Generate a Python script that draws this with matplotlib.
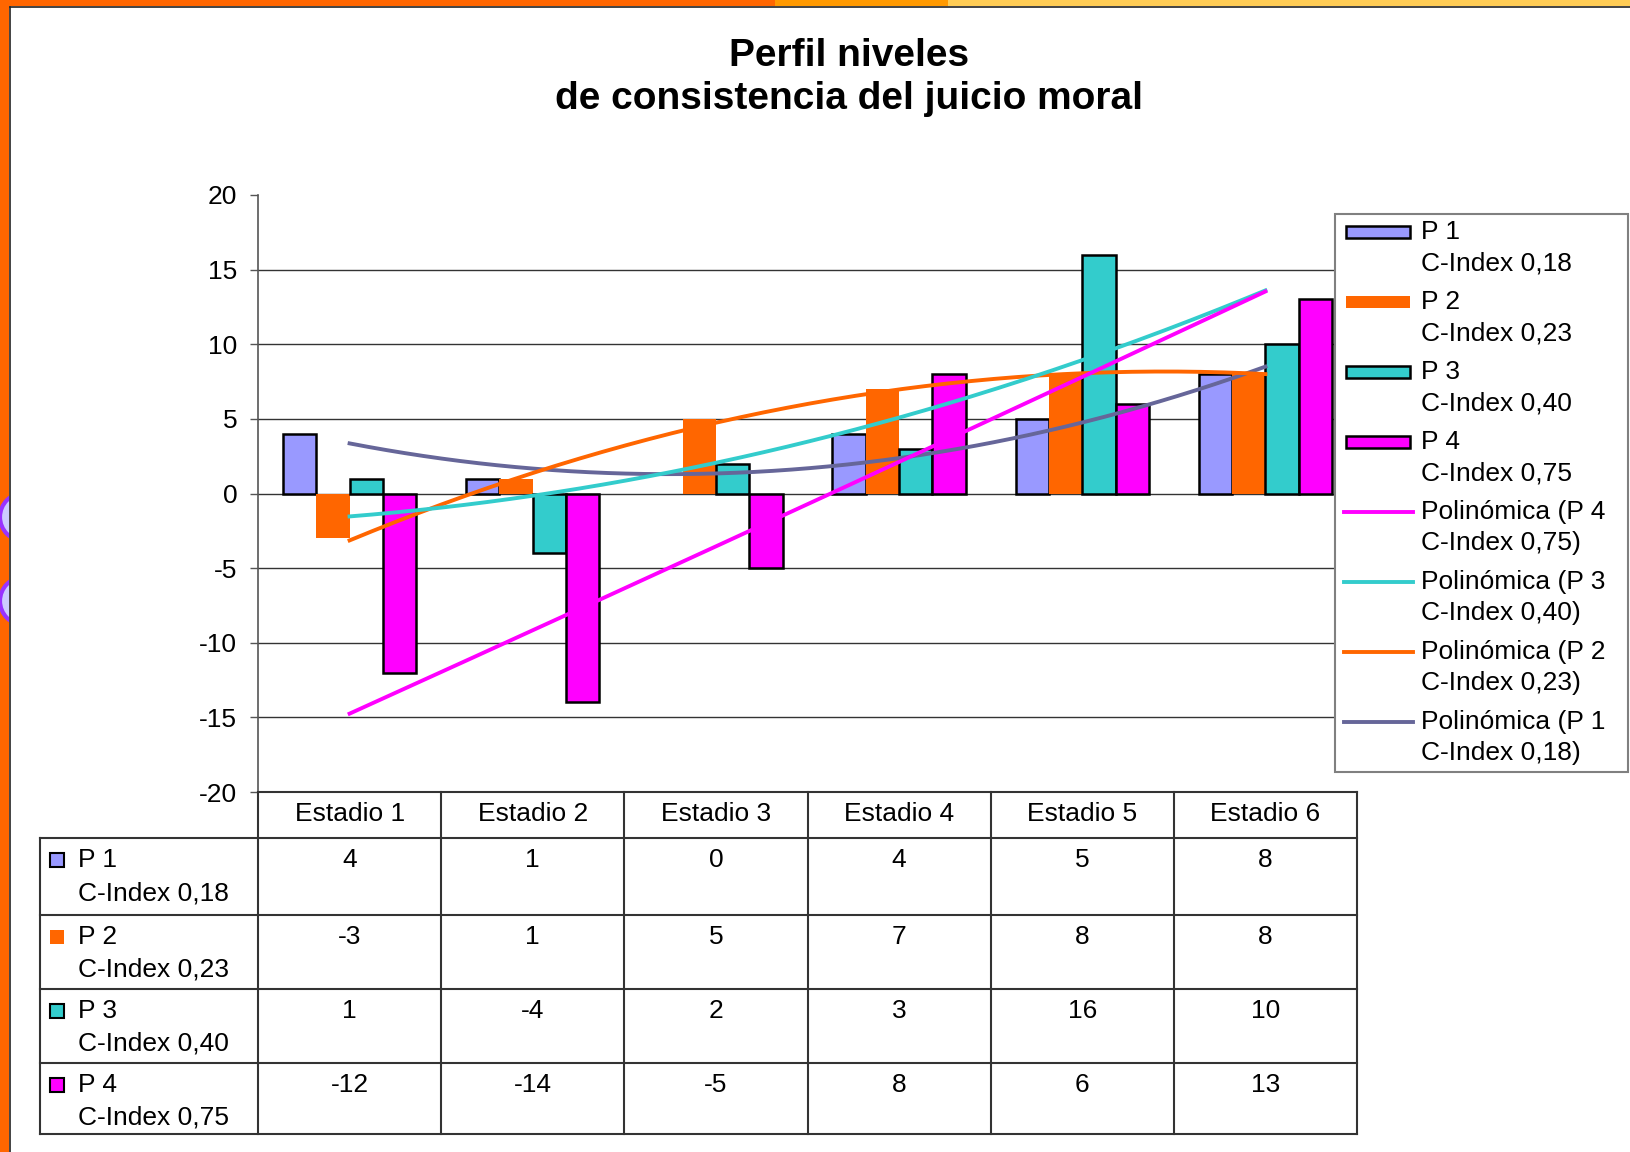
import numpy as np
import matplotlib
matplotlib.use('Agg')
import matplotlib.pyplot as plt
from matplotlib.patches import Rectangle, Circle

plt.rcParams['font.family'] = ['Liberation Sans', 'DejaVu Sans']
plt.rcParams['axes.unicode_minus'] = False

# --- Datos ---
estadios = ['Estadio 1', 'Estadio 2', 'Estadio 3', 'Estadio 4', 'Estadio 5', 'Estadio 6']
p1 = [4, 1, 0, 4, 5, 8]
p2 = [-3, 1, 5, 7, 8, 8]
p3 = [1, -4, 2, 3, 16, 10]
p4 = [-12, -14, -5, 8, 6, 13]
series = [p1, p2, p3, p4]
nombres = ['P 1', 'P 2', 'P 3', 'P 4']
cindex = ['C-Index 0,18', 'C-Index 0,23', 'C-Index 0,40', 'C-Index 0,75']
colores = ['#9999FF', '#FF6600', '#33CCCC', '#FF00FF']
colores_tend = ['#666699', '#FF6600', '#33CCCC', '#FF00FF']

W, H = 1630, 1152
fs = 19
fig = plt.figure(figsize=(W / 100, H / 100), dpi=100)
fig.patch.set_facecolor('white')

# --- Grafico principal ---
x0, x1, ytop, ybot = 258, 1357, 195, 792
ax = fig.add_axes([x0 / W, 1 - ybot / H, (x1 - x0) / W, (ybot - ytop) / H])
ax.set_xlim(0.5, 6.5)
ax.set_ylim(-20, 20)
ax.set_yticks(range(-20, 25, 5))
ax.set_xticks([])
for v in range(-15, 20, 5):
    ax.axhline(v, color='#333333', lw=1, zorder=0)
for s in ['top', 'right', 'bottom']:
    ax.spines[s].set_visible(False)
ax.spines['left'].set_color('#555555')
ax.spines['left'].set_linewidth(1.2)
ax.tick_params(axis='y', direction='out', length=6, width=1, color='#555555',
               labelsize=fs, pad=9)

x = np.arange(1, 7)
ancho = 1 / 5.5
for i, (datos, col) in enumerate(zip(series, colores)):
    borde = 'none' if i == 1 else 'black'
    grosor = [0 if v == 0 else 1.8 for v in datos]
    ax.bar(x + (i - 1.5) * ancho, datos, width=ancho, color=col,
           edgecolor=borde, linewidth=grosor, zorder=2)

# Lineas de tendencia polinomicas (orden 2)
xs = np.linspace(1, 6, 200)
for datos, col in zip(series, colores_tend):
    coef = np.polyfit(x, datos, 2)
    ax.plot(xs, np.polyval(coef, xs), color=col, lw=2.8, zorder=3)

# --- Capa superpuesta en pixeles ---
ov = fig.add_axes([0, 0, 1, 1], zorder=5)
ov.set_xlim(0, W)
ov.set_ylim(H, 0)
ov.axis('off')
ov.patch.set_alpha(0)

# Marco decorativo
ov.add_patch(Rectangle((0, 0), 9, H, fc='#FF6600', ec='none'))
ov.add_patch(Rectangle((0, 0), 775, 6, fc='#FF6600', ec='none'))
ov.add_patch(Rectangle((775, 0), 173, 6, fc='#FF9900', ec='none'))
ov.add_patch(Rectangle((948, 0), W - 948, 6, fc='#FFCC55', ec='none'))
clip = Rectangle((0, 0), 9, H, transform=ov.transData, visible=False)
ov.add_patch(clip)
for cy in [517, 601]:
    c = Circle((24, cy), 24, fc='#CCCCFF', ec='#9933FF', lw=3)
    ov.add_patch(c)
    c.set_clip_path(clip)
ov.plot([9.5, 9.5], [6.5, H], color='#222222', lw=1.2)
ov.plot([9.5, W], [6.5, 6.5], color='#222222', lw=1.2)

# Titulo
ov.text(849, 56, 'Perfil niveles', ha='center', va='center', fontsize=28, fontweight='bold')
ov.text(849, 99, 'de consistencia del juicio moral', ha='center', va='center',
        fontsize=28, fontweight='bold')

# Leyenda
ov.add_patch(Rectangle((1335, 214), 293, 558, fc='white', ec='#808080', lw=1.5))
ley_y = 232
paso = 70
for i in range(4):
    yy = ley_y + paso * i
    borde = 'none' if i == 1 else 'black'
    ov.add_patch(Rectangle((1346, yy - 6), 64, 12, fc=colores[i], ec=borde, lw=1.8))
    ov.text(1421, yy, nombres[i], va='center', fontsize=fs)
    ov.text(1421, yy + 31, cindex[i], va='center', fontsize=fs)
for k, i in enumerate([3, 2, 1, 0]):
    yy = ley_y + paso * (4 + k)
    ov.plot([1344, 1413], [yy, yy], color=colores_tend[i], lw=2.8)
    ov.text(1421, yy, 'Polinómica (' + nombres[i], va='center', fontsize=fs)
    ov.text(1421, yy + 31, cindex[i] + ')', va='center', fontsize=fs)

# Tabla de datos
colw = (x1 - x0) / 6
bordes_x = x0 + colw * np.arange(7)
filas_y = [838, 915, 989, 1063, 1134]
lc = '#333333'
ov.plot([x0, x1], [ybot, ybot], color=lc, lw=1.5)
for bx in bordes_x:
    ov.plot([bx, bx], [ybot, filas_y[-1]], color=lc, lw=1.5)
for fy in filas_y:
    ov.plot([40, x1], [fy, fy], color=lc, lw=1.5)
ov.plot([40, 40], [filas_y[0], filas_y[-1]], color=lc, lw=1.5)

for j, nombre in enumerate(estadios):
    ov.text(bordes_x[j] + colw / 2, 814, nombre, ha='center', va='center', fontsize=fs)

for i, datos in enumerate(series):
    yy = filas_y[i] + 22
    borde = 'none' if i == 1 else 'black'
    ov.add_patch(Rectangle((50, yy - 7), 14, 14, fc=colores[i], ec=borde, lw=1.5))
    ov.text(78, yy, nombres[i], va='center', fontsize=fs)
    ov.text(78, yy + 33, cindex[i], va='center', fontsize=fs)
    for j, v in enumerate(datos):
        ov.text(bordes_x[j] + colw / 2, yy, str(v), ha='center', va='center', fontsize=fs)

fig.savefig('out.png', dpi=100)
